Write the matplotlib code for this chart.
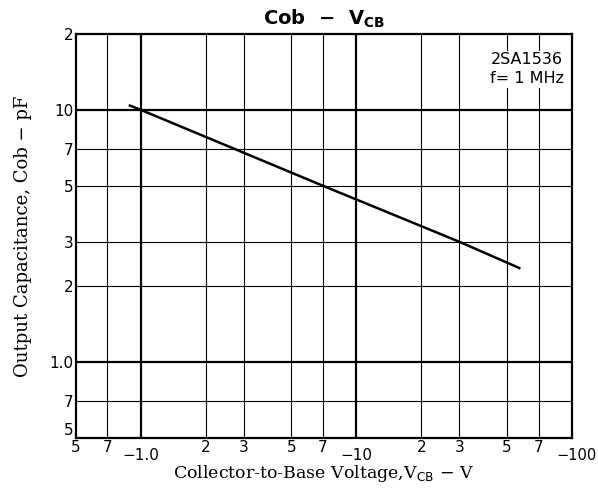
import matplotlib.pyplot as plt
from matplotlib.transforms import blended_transform_factory

# Cob - VCB curve (magnitude of VCB in volts, capacitance in pF)
vcb = [0.89, 1.0, 7.0, 30.0, 57.0]
cob = [10.4, 10.0, 5.0, 3.0, 2.36]

x_ticks = [0.5, 0.7, 1, 2, 3, 5, 7, 10, 20, 30, 50, 70, 100]
x_labels = ['5', '7', '\u22121.0', '2', '3', '5', '7', '\u221210', '2', '3', '5', '7', '\u2212100']
y_ticks = [0.5, 0.7, 1, 2, 3, 5, 7, 10, 20]
y_labels = ['5', '7', '1.0', '2', '3', '5', '7', '10', '2']

fig = plt.figure(figsize=(5.98, 4.95), dpi=100)
ax = fig.add_axes([0.127, 0.1152, 0.8294, 0.8162])
ax.set_xscale('log')
ax.set_yscale('log')
ax.set_xlim(0.5, 100)
ax.set_ylim(0.5, 20)

# grid
for x in x_ticks[1:-1]:
    lw = 1.6 if x in (1, 10) else 0.8
    ax.axvline(x, color='black', lw=lw, zorder=1)
for y in y_ticks[1:-1]:
    lw = 1.6 if y in (1, 10) else 0.8
    ax.axhline(y, color='black', lw=lw, zorder=1)

ax.plot(vcb, cob, color='black', lw=1.8, zorder=3)

ax.set_xticks(x_ticks)
ax.set_xticklabels([])
ax.set_yticks(y_ticks)
ax.set_yticklabels(y_labels, fontsize=11)
ax.get_yticklabels()[0].set_va('bottom')
ax.minorticks_off()
ax.tick_params(length=0, pad=2)

tr = blended_transform_factory(ax.transData, ax.transAxes)
for x, lab in zip(x_ticks, x_labels):
    dy = -0.025 if lab.startswith('\u2212') else -0.005
    xx = x * 1.045 if lab == '\u2212100' else x
    fs = 10.5 if lab == '\u2212100' else 11
    ax.text(xx, dy, lab, transform=tr, ha='center', va='top', fontsize=fs)

for s in ax.spines.values():
    s.set_linewidth(1.6)

ax.text(0.91, 0.955, '2SA1536\nf= 1 MHz', transform=ax.transAxes, ha='center',
        va='top', fontsize=11.5, linespacing=1.35, zorder=4,
        bbox=dict(facecolor='white', edgecolor='none', pad=1))

fig.text(0.542, 0.962, 'Cob  \u2212  V$_{\\mathbf{CB}}$', ha='center', va='center',
         fontsize=14, fontweight='bold')
ax.set_xlabel('Collector-to-Base Voltage,V$_{\\rm CB}$ \u2212 V', family='DejaVu Serif',
              fontsize=12.5, labelpad=16)
ax.set_ylabel('Output Capacitance, Cob \u2212 pF', family='DejaVu Serif', fontsize=13,
              labelpad=12)

fig.savefig('out.png', dpi=100)
